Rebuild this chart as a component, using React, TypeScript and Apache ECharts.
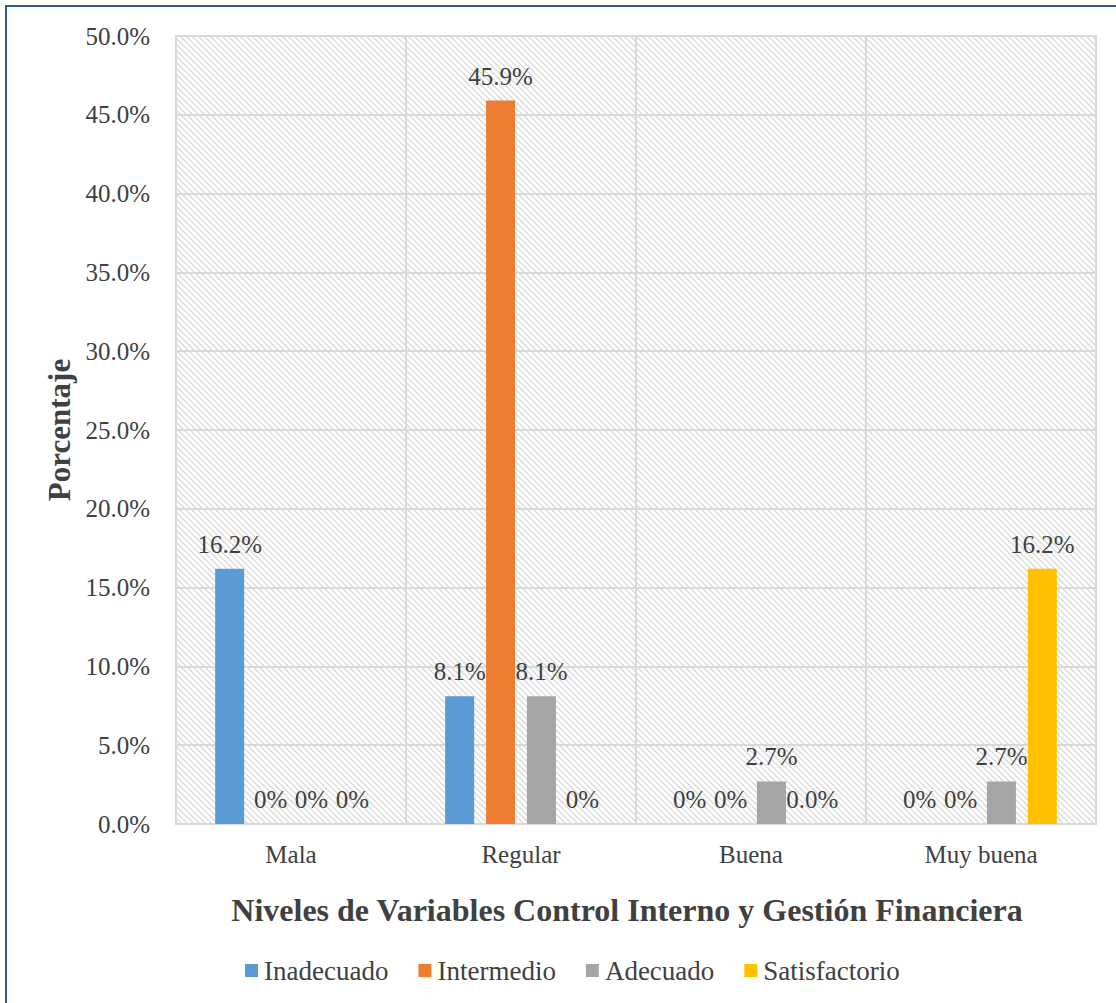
import React, { useEffect, useRef } from "react";
import * as echarts from "echarts";

const categories = ["Mala", "Regular", "Buena", "Muy buena"];
const seriesNames = ["Inadecuado", "Intermedio", "Adecuado", "Satisfactorio"];
const inadecuado = [16.2, 8.1, 0, 0];
const intermedio = [0, 45.9, 0, 0];
const adecuado = [0, 8.1, 2.7, 2.7];
const satisfactorio = [0, 0, 0, 16.2];
const inadecuadoLabels = ["16.2%", "8.1%", "0%", "0%"];
const intermedioLabels = ["0%", "45.9%", "0%", "0%"];
const adecuadoLabels = ["0%", "8.1%", "2.7%", "2.7%"];
const satisfactorioLabels = ["0%", "0%", "0.0%", "16.2%"];
const colors = ["#5B9BD5", "#ED7D31", "#A5A5A5", "#FFC000"];
const yMin = 0;
const yMax = 50;
const yInterval = 5;

const FONT = "Liberation Serif";
const TEXT = "#404040";

function makeHatch(): HTMLCanvasElement {
  const s = 6;
  const c = document.createElement("canvas");
  c.width = s;
  c.height = s;
  const ctx = c.getContext("2d")!;
  ctx.fillStyle = "#ffffff";
  ctx.fillRect(0, 0, s, s);
  ctx.strokeStyle = "#D9D9D9";
  ctx.lineWidth = 1.3;
  for (let k = -1; k <= 1; k++) {
    ctx.beginPath();
    ctx.moveTo(-2 + k * s, -2);
    ctx.lineTo(s + 2 + k * s, s + 2);
    ctx.stroke();
  }
  return c;
}

export default function App() {
  const ref = useRef<HTMLDivElement>(null);
  useEffect(() => {
    if (!ref.current) return;
    const chart = echarts.init(ref.current, undefined, { renderer: "svg" });
    const hatch = makeHatch();
    const data = [inadecuado, intermedio, adecuado, satisfactorio];
    const labels = [inadecuadoLabels, intermedioLabels, adecuadoLabels, satisfactorioLabels];
    chart.setOption({
      animation: false,
      backgroundColor: "#ffffff",
      textStyle: { fontFamily: FONT },
      grid: {
        left: 176,
        right: 20,
        top: 36,
        bottom: 179,
        show: true,
        backgroundColor: { image: hatch, repeat: "repeat" },
        borderColor: "#D9D9D9",
        borderWidth: 2,
      },
      legend: {
        left: 240,
        top: 952,
        itemWidth: 13,
        itemHeight: 13,
        itemGap: 30,
        icon: "rect",
        textStyle: { fontFamily: FONT, fontSize: 27, color: TEXT, padding: [0, 0, 0, 1] },
        data: seriesNames,
      },
      xAxis: {
        type: "category",
        data: categories,
        axisLine: { lineStyle: { color: "#D9D9D9", width: 2 } },
        axisTick: { show: false },
        splitLine: { show: true, lineStyle: { color: "#D9D9D9", width: 2 } },
        axisLabel: { fontFamily: FONT, fontSize: 25, color: TEXT, margin: 18 },
        name: "Niveles de Variables Control Interno y Gestión Financiera",
        nameLocation: "middle",
        nameGap: 70,
        nameTextStyle: { fontFamily: FONT, fontSize: 32, fontWeight: "bold", color: TEXT, padding: [0, 18, 0, 0] },
      },
      yAxis: {
        type: "value",
        min: yMin,
        max: yMax,
        interval: yInterval,
        axisLine: { show: false },
        axisTick: { show: false },
        splitLine: { lineStyle: { color: "#D9D9D9", width: 2 } },
        axisLabel: {
          fontFamily: FONT,
          fontSize: 25,
          color: TEXT,
          margin: 26,
          formatter: (v: number) => v.toFixed(1) + "%",
        },
        name: "Porcentaje",
        nameLocation: "middle",
        nameGap: 100,
        nameTextStyle: { fontFamily: FONT, fontSize: 31, fontWeight: "bold", color: TEXT },
      },
      series: seriesNames.map((n, i) => ({
        name: n,
        type: "bar",
        data: data[i],
        barWidth: 29,
        barGap: "41%",
        itemStyle: { color: colors[i] },
        label: {
          show: true,
          position: "top",
          distance: 12,
          fontFamily: FONT,
          fontSize: 25,
          color: TEXT,
          formatter: (p: any) => labels[i][p.dataIndex],
        },
      })),
      graphic: [
        { type: "line", shape: { x1: 5, y1: 6, x2: 1116, y2: 6 }, style: { stroke: "#2E5B8C", lineWidth: 2 } },
        { type: "line", shape: { x1: 6, y1: 5, x2: 6, y2: 1003 }, style: { stroke: "#2E5B8C", lineWidth: 2 } },
      ],
    });
    return () => chart.dispose();
  }, []);
  return (
    <div
      ref={ref}
      style={{ position: "absolute", left: 0, top: 0, width: 1116, height: 1003 }}
    />
  );
}
